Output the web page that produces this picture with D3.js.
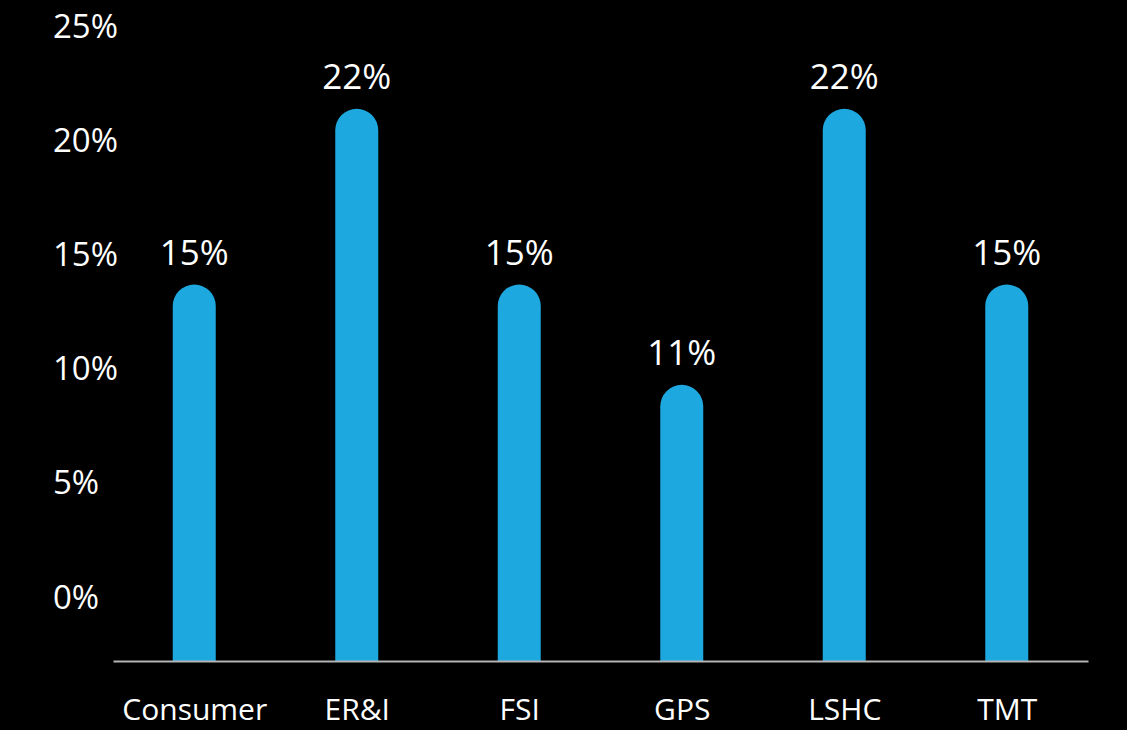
<!DOCTYPE html>
<html>
<head>
<meta charset="utf-8">
<script src="https://cdn.jsdelivr.net/npm/d3@7"></script>
<style>
  html, body { margin: 0; padding: 0; background: #000; }
  svg { display: block; }
  text { font-family: "Open Sans", "Noto Sans", sans-serif; fill: #fff; }
</style>
</head>
<body>
<svg id="chart" width="1127" height="730"></svg>
<script>
// Industry breakdown
const categories = ["Consumer", "ER&I", "FSI", "GPS", "LSHC", "TMT"];
const values = [15, 22, 15, 11, 22, 15];
const yTicks = [0, 5, 10, 15, 20, 25];

const W = 1127, H = 730;
const svg = d3.select("#chart");
svg.append("rect").attr("width", W).attr("height", H).attr("fill", "#000");

const baseY = 661;
const barW = 43;

const x = d3.scalePoint().domain(categories).range([113, 1088]).padding(0.5);
const y = d3.scaleLinear().domain([0, 25]).range([baseY, baseY - 25.1 * 25]);
// tick labels sit on their own scale along the left edge
const yLabel = d3.scaleLinear().domain([0, 25]).range([608, 37]);

// y-axis labels
const yAxis = d3.axisLeft(yLabel).tickValues(yTicks).tickSize(0).tickFormat(d => d + "%");
const gy = svg.append("g").attr("transform", "translate(53,0)").call(yAxis);
gy.select(".domain").remove();
gy.selectAll("text")
  .attr("x", 0).attr("dy", 0)
  .attr("text-anchor", "start")
  .style("font-family", "'Open Sans', sans-serif")
  .style("font-size", "33px")
  .attr("fill", "#fff");

// bars with rounded tops
function barPath(cx, top, bottom, w) {
  const r = w / 2;
  const p = d3.path();
  p.moveTo(cx - r, bottom);
  p.lineTo(cx - r, top + r);
  p.arc(cx, top + r, r, Math.PI, 0);
  p.lineTo(cx + r, bottom);
  p.closePath();
  return p.toString();
}

const data = categories.map((c, i) => ({ c, v: values[i] }));

svg.append("g").selectAll("path")
  .data(data).join("path")
  .attr("d", d => barPath(x(d.c), y(d.v), baseY, barW))
  .attr("fill", "#1DA9E0");

// value labels
svg.append("g").selectAll("text")
  .data(data).join("text")
  .attr("x", d => x(d.c))
  .attr("y", d => y(d.v) - 20)
  .attr("text-anchor", "middle")
  .style("font-size", "35px")
  .text(d => d.v + "%");

// category axis
const xAxis = d3.axisBottom(x).tickSize(0).tickSizeOuter(0);
const gx = svg.append("g").attr("transform", `translate(0,${baseY})`).call(xAxis);
gx.select(".domain").attr("stroke", "#b4b4b4").attr("stroke-width", 2);
gx.selectAll("text")
  .attr("y", 59).attr("dy", 0)
  .style("font-family", "'Open Sans', sans-serif")
  .style("font-size", "30px")
  .attr("fill", "#fff");
</script>
</body>
</html>
